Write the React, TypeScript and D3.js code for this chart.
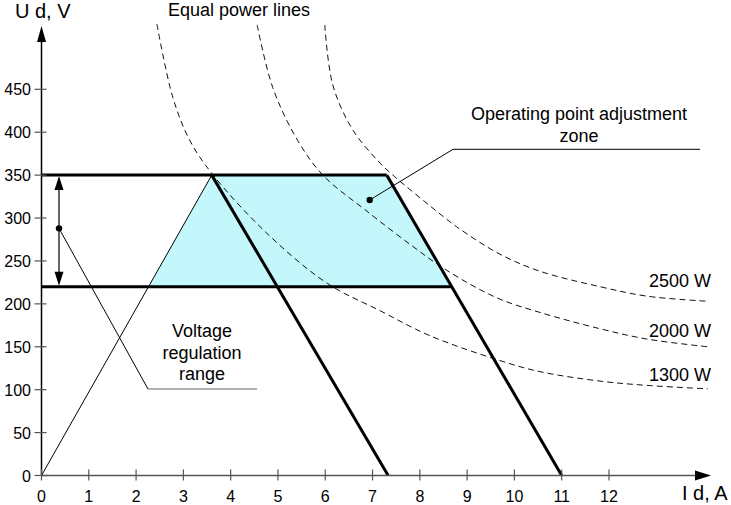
import React from 'react';
import * as d3 from 'd3';

// axis ticks
const xTicks = [0, 1, 2, 3, 4, 5, 6, 7, 8, 9, 10, 11, 12];
const yTicks = [0, 50, 100, 150, 200, 250, 300, 350, 400, 450];

// voltage regulation range
const rangeTop = 350;
const rangeBottom = 220;
const apex = [3.6, 350];
const lowLimitFoot = 7.33;
const highLimitTop = 7.3;
const highLimitFoot = 11;

// equal power curves (I in A, U in V)
const powerLabels = ['1300 W', '2000 W', '2500 W'];
const curve1300 = [
  [2.44, 526], [2.78, 440], [3.14, 390], [3.63, 350], [4.77, 282], [6.04, 224],
  [7.16, 192], [8.21, 163], [9.69, 134], [10.54, 121], [11.81, 110], [12.8, 105], [14.09, 101],
];
const curve2000 = [
  [4.56, 525], [4.89, 452], [5.4, 392], [5.95, 350], [6.88, 308], [7.85, 267],
  [8.57, 239], [9.63, 207], [10.54, 190], [11.81, 171], [12.8, 159], [14.09, 150],
];
const curve2500 = [
  [5.99, 525], [6.16, 455], [6.59, 402], [7.16, 364], [7.43, 350], [8.49, 302],
  [8.85, 287], [9.69, 258], [10.54, 238], [11.81, 220], [12.8, 209], [14.09, 203],
];

// annotation points
const regulationArrowI = 0.37;
const regulationDot = [0.37, 288];
const operatingDot = [6.94, 321];

const W = 731;
const H = 505;
const font = '"Liberation Sans", Arial, sans-serif';

const App = () => {
  const x = d3.scaleLinear().domain([0, 12]).range([41.5, 609]);
  const y = d3.scaleLinear().domain([0, 450]).range([475.5, 89.3]);

  const line = d3.line<number[]>().x(d => x(d[0])).y(d => y(d[1]));
  const smooth = d3
    .line<number[]>()
    .x(d => x(d[0]))
    .y(d => y(d[1]))
    .curve(d3.curveCatmullRom.alpha(0.5));

  // corners of the operating zone
  const leftAtBottom = (apex[0] * rangeBottom) / apex[1];
  const rightAtBottom =
    highLimitTop + ((highLimitFoot - highLimitTop) * (rangeTop - rangeBottom)) / rangeTop;
  const zone = [
    [leftAtBottom, rangeBottom], [apex[0], rangeTop], [highLimitTop, rangeTop], [rightAtBottom, rangeBottom],
  ];

  const x0 = x(0);
  const y0 = y(0);
  const ax = x(regulationArrowI);

  const curves = [curve1300, curve2000, curve2500];
  const labelY = [380.7, 337.3, 287.3];

  return (
    <svg width={W} height={H} style={{ position: 'absolute', left: 0, top: 0, background: '#fff' }} fontFamily={font}>
      {/* operating zone fill */}
      <path d={line(zone) + 'Z'} fill="#c3f7fb" stroke="none" />

      {/* equal power lines */}
      {curves.map((c, i) => (
        <path key={i} d={smooth(c) || ''} fill="none" stroke="#111" strokeWidth={1} strokeDasharray="6,4" />
      ))}

      {/* thin line from origin to apex */}
      <path d={line([[0, 0], apex]) || ''} fill="none" stroke="#000" strokeWidth={1} />

      {/* thick range lines */}
      <path d={line([[0, rangeTop], [highLimitTop, rangeTop]]) || ''} stroke="#000" strokeWidth={3} />
      <path d={line([[0, rangeBottom], [rightAtBottom, rangeBottom]]) || ''} stroke="#000" strokeWidth={3} />
      <path d={line([apex, [lowLimitFoot, 0]]) || ''} stroke="#000" strokeWidth={3} />
      <path d={line([[highLimitTop, rangeTop], [highLimitFoot, 0]]) || ''} stroke="#000" strokeWidth={3} />

      {/* axes */}
      <line x1={x0} y1={y0} x2={700} y2={y0} stroke="#555" strokeWidth={1.5} />
      <path d={`M${711},${y0}L${695},${y0 - 5}L${695},${y0 + 5}Z`} fill="#000" />
      <line x1={x0} y1={y0} x2={x0} y2={38} stroke="#000" strokeWidth={1.5} />
      <path d={`M${x0},${26}L${x0 - 4.5},${42}L${x0 + 4.5},${42}Z`} fill="#000" />

      {xTicks.map(t => (
        <g key={'x' + t}>
          <line x1={x(t)} x2={x(t)} y1={y0 - 6} y2={y0 + 5} stroke="#555" strokeWidth={1.2} />
          <text x={x(t)} y={502} textAnchor="middle" fontSize={16} fill="#000">{t}</text>
        </g>
      ))}
      {yTicks.map(t => (
        <g key={'y' + t}>
          <line x1={x0 - 7} x2={x0 + 5} y1={y(t)} y2={y(t)} stroke="#555" strokeWidth={1.2} />
          <text x={31} y={y(t) + 6} textAnchor="end" fontSize={16} fill="#000">{t}</text>
        </g>
      ))}

      <text x={15} y={18} fontSize={20} fill="#000">U d, V</text>
      <text x={682} y={500} fontSize={20} fill="#000">I d, A</text>
      <text x={239} y={16} textAnchor="middle" fontSize={18} fill="#000">Equal power lines</text>

      {powerLabels.map((l, i) => (
        <text key={l} x={711} y={labelY[i]} textAnchor="end" fontSize={18} fill="#000">{l}</text>
      ))}

      {/* voltage regulation range */}
      <line x1={ax} x2={ax} y1={y(rangeTop) + 12} y2={y(rangeBottom) - 12} stroke="#000" strokeWidth={1.2} />
      <path d={`M${ax},${y(rangeTop) + 1}L${ax - 4.5},${y(rangeTop) + 15}L${ax + 4.5},${y(rangeTop) + 15}Z`} fill="#000" />
      <path d={`M${ax},${y(rangeBottom) - 1}L${ax - 4.5},${y(rangeBottom) - 15}L${ax + 4.5},${y(rangeBottom) - 15}Z`} fill="#000" />
      <circle cx={x(regulationDot[0])} cy={y(regulationDot[1])} r={3.2} fill="#000" />
      <path d={`M${x(regulationDot[0])},${y(regulationDot[1])}L148,389`} stroke="#000" strokeWidth={1} fill="none" />
      <path d="M148,389L257,389" stroke="#666" strokeWidth={1.2} fill="none" />
      <text x={202} y={337} textAnchor="middle" fontSize={18} fill="#000">Voltage</text>
      <text x={202} y={358.5} textAnchor="middle" fontSize={18} fill="#000">regulation</text>
      <text x={202} y={380} textAnchor="middle" fontSize={18} fill="#000">range</text>

      {/* operating point adjustment zone */}
      <circle cx={x(operatingDot[0])} cy={y(operatingDot[1])} r={3.2} fill="#000" />
      <path d={`M${x(operatingDot[0])},${y(operatingDot[1])}L453,149.3L700,149.3`} stroke="#000" strokeWidth={1} fill="none" />
      <text x={579} y={119.5} textAnchor="middle" fontSize={18} fill="#000">Operating point adjustment</text>
      <text x={579} y={141.5} textAnchor="middle" fontSize={18} fill="#000">zone</text>
    </svg>
  );
};

export default App;
